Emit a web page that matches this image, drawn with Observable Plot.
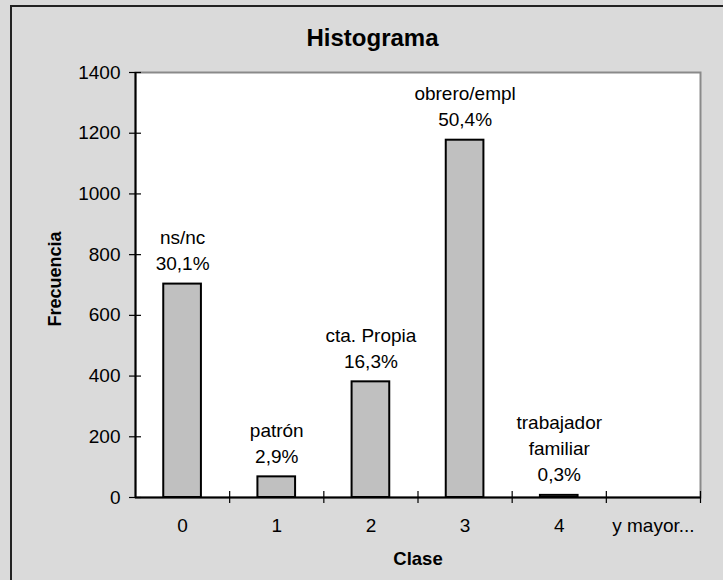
<!DOCTYPE html>
<html>
<head>
<meta charset="utf-8">
<script src="https://cdn.jsdelivr.net/npm/d3@7"></script>
<script src="https://cdn.jsdelivr.net/npm/@observablehq/plot@0.6"></script>
<style>
  html, body { margin: 0; padding: 0; }
  body { width: 723px; height: 580px; overflow: hidden; background: #dadada; position: relative; font-family: "Liberation Sans", Arial, sans-serif; }
  #border { position: absolute; left: 10px; top: 5px; width: 740px; height: 600px; border-left: 2px solid #222; border-top: 2px solid #222; }
  #title { position: absolute; left: 0; top: 26px; width: 745px; text-align: center; font-size: 24px; line-height: 24px; font-weight: bold; color: #000; }
  #chart { position: absolute; left: 0; top: 0; }
</style>
</head>
<body>
<div id="border"></div>
<div id="title">Histograma</div>
<div id="chart"></div>
<script>
const clases = ["0", "1", "2", "3", "4", "y mayor..."];
const frecuencias = [703, 68, 381, 1177, 7, 0];
const etiquetas = ["ns/nc\n30,1%", "patrón\n2,9%", "cta. Propia\n16,3%", "obrero/empl\n50,4%", "trabajador\nfamiliar\n0,3%", ""];
const yTicks = [0, 200, 400, 600, 800, 1000, 1200, 1400];

const data = clases.map((c, i) => ({clase: c, i, valor: frecuencias[i], etiqueta: etiquetas[i]}));
const limites = d3.range(1, clases.length + 1);

const plot = Plot.plot({
  width: 723,
  height: 580,
  marginTop: 72,
  marginBottom: 83,
  marginLeft: 135,
  marginRight: 23,
  style: {background: "transparent", fontFamily: "Liberation Sans, Arial, sans-serif", color: "#000"},
  x: {domain: [0, clases.length], axis: null},
  y: {domain: [0, 1400], axis: null},
  marks: [
    Plot.frame({fill: "white", stroke: "#8a8a8a", strokeWidth: 2}),
    Plot.rectY(data.filter(d => d.valor > 0), {x1: d => d.i + 0.3, x2: d => d.i + 0.7, y1: () => 0, y2: "valor", fill: "#c0c0c0", stroke: "#000", strokeWidth: 2}),
    Plot.ruleX([0], {stroke: "#000", strokeWidth: 2}),
    Plot.ruleY([0], {stroke: "#000", strokeWidth: 2}),
    Plot.ruleY(yTicks, {y: d => d, x1: () => 0, x2: () => 0, insetLeft: -6, insetRight: -6, stroke: "#000", strokeWidth: 1.2}),
    Plot.ruleX(limites, {x: d => d, y1: () => 0, y2: () => 0, insetTop: -6, insetBottom: -6, stroke: "#000", strokeWidth: 1.2}),
    Plot.axisY({ticks: yTicks, tickSize: 0, tickPadding: 15, fontSize: 19, label: null, tickFormat: d => String(d)}),
    Plot.text(data, {x: d => d.i + 0.5, frameAnchor: "bottom", lineAnchor: "middle", dy: 28, text: "clase", fontSize: 19, fill: "#000"}),
    Plot.text(data, {x: d => d.i + 0.5, y: "valor", text: "etiqueta", lineAnchor: "bottom", dy: -14, lineHeight: 1.37, fontSize: 19, fill: "#000"}),
    Plot.text(["Frecuencia"], {frameAnchor: "left", dx: -80, dy: -6, rotate: -90, textAnchor: "middle", lineAnchor: "middle", fontSize: 18, fontWeight: "bold", fill: "#000"}),
    Plot.text(["Clase"], {frameAnchor: "bottom", lineAnchor: "middle", dy: 62, fontSize: 18.5, fontWeight: "bold", fill: "#000"})
  ]
});
document.getElementById("chart").appendChild(plot);
</script>
</body>
</html>
